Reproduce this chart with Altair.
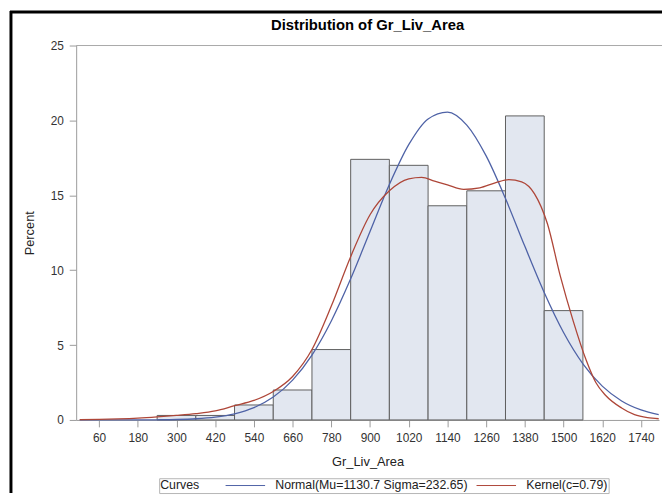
import altair as alt
import pandas as pd

# Histogram bins (Gr_Liv_Area midpoints, bin width 120) and percent per bin
bin_centers = [300, 420, 540, 660, 780, 900, 1020, 1140, 1260, 1380, 1500]
bin_percent = [0.3, 0.3, 1.0, 2.0, 4.7, 17.4, 17.0, 14.3, 15.3, 20.3, 7.3]
bin_width = 120

# Normal(Mu=1130.7 Sigma=232.65) curve
normal_x = [0, 60, 120, 180, 240, 300, 360, 420, 480, 540, 600, 660, 720, 780, 840,
            900, 960, 1020, 1080, 1140, 1200, 1260, 1320, 1380, 1440, 1500, 1560,
            1620, 1680, 1740, 1795]
normal_y = [0.0, 0.0, 0.0, 0.0, 0.01, 0.03, 0.08, 0.19, 0.41, 0.82, 1.53, 2.66, 4.33,
            6.61, 9.42, 12.58, 15.72, 18.38, 20.10, 20.56, 19.69, 17.63, 14.78, 11.59,
            8.51, 5.84, 3.75, 2.26, 1.27, 0.67, 0.35]

# Kernel(c=0.79) curve
kernel_x = [0, 60, 120, 180, 240, 300, 360, 420, 480, 540, 600, 660, 720, 780, 840,
            900, 960, 1020, 1060, 1100, 1140, 1190, 1240, 1290, 1330, 1370, 1410,
            1450, 1490, 1530, 1570, 1600, 1630, 1680, 1720, 1760, 1795]
kernel_y = [0.02, 0.04, 0.07, 0.12, 0.2, 0.3, 0.42, 0.6, 0.95, 1.3, 1.9, 2.9, 4.7,
            7.6, 10.9, 13.7, 15.3, 16.1, 16.2, 15.95, 15.7, 15.4, 15.5, 15.85, 16.05,
            15.9, 15.1, 13.1, 9.6, 6.6, 4.0, 2.5, 1.65, 0.8, 0.35, 0.15, 0.08]

curve_names = ["Normal(Mu=1130.7 Sigma=232.65)", "Kernel(c=0.79)"]
curve_colors = ["#4E62A6", "#AE4638"]

x_ticks = [60, 180, 300, 420, 540, 660, 780, 900, 1020, 1140, 1260, 1380, 1500, 1620, 1740]
y_ticks = [0, 5, 10, 15, 20, 25]

FONT = "Liberation Sans"

bars_df = pd.DataFrame({
    "start": [c - bin_width / 2 for c in bin_centers],
    "end": [c + bin_width / 2 for c in bin_centers],
    "percent": bin_percent,
    "base": [0] * len(bin_centers),
})

curves_df = pd.concat([
    pd.DataFrame({"x": normal_x, "y": normal_y, "curve": curve_names[0]}),
    pd.DataFrame({"x": kernel_x, "y": kernel_y, "curve": curve_names[1]}),
])

x_scale = alt.Scale(domain=[-11, 1796], nice=False, zero=False)
y_scale = alt.Scale(domain=[0, 25], nice=False)

x_axis = alt.Axis(title="Gr_Liv_Area", values=x_ticks, format="d", labelFlush=False)
y_axis = alt.Axis(title="Percent", values=y_ticks, format="d")

bars = alt.Chart(bars_df).mark_rect(
    fill="#E2E7F0", stroke="#5E5E5E", strokeWidth=1
).encode(
    x=alt.X("start:Q", scale=x_scale, axis=x_axis),
    x2="end:Q",
    y=alt.Y("percent:Q", scale=y_scale, axis=y_axis),
    y2="base:Q",
)

lines = alt.Chart(curves_df).mark_line(
    strokeWidth=1.3, interpolate="monotone"
).encode(
    x=alt.X("x:Q", scale=x_scale, axis=x_axis),
    y=alt.Y("y:Q", scale=y_scale, axis=y_axis),
    color=alt.Color(
        "curve:N",
        scale=alt.Scale(domain=curve_names, range=curve_colors),
        legend=alt.Legend(
            orient="none", legendX=84, legendY=438, direction="horizontal",
            title="Curves", titleOrient="left", titleFontWeight="normal",
            titleFontSize=12.5, titleFont=FONT, titleColor="#222222", titlePadding=40,
            labelFontSize=12.5, labelFont=FONT, labelColor="#222222", labelLimit=400,
            labelOffset=24, columnPadding=6, symbolType="M-4,0H4", symbolSize=100,
            symbolStrokeWidth=1, strokeColor="#B5B5B5", padding=1, fillColor="white",
        ),
    ),
    detail="curve:N",
)

frame_df = pd.DataFrame({"k": [0]})
top_frame = alt.Chart(frame_df).mark_rule(color="#A8A8A8", strokeWidth=1).encode(
    x=alt.value(0), x2=alt.value(593), y=alt.value(0)
)
border_left = alt.Chart(frame_df).mark_rule(color="black", strokeWidth=3).encode(
    x=alt.value(-66), y=alt.value(-35), y2=alt.value(453)
)
border_top = alt.Chart(frame_df).mark_rule(color="black", strokeWidth=3).encode(
    x=alt.value(-67), x2=alt.value(593), y=alt.value(-34)
)

chart = alt.layer(bars, lines, top_frame, border_left, border_top).properties(
    width=590,
    height=379,
    padding={"left": 69, "top": 35, "right": 3, "bottom": 74},
    autosize=alt.AutoSizeParams(type="none"),
    title=alt.TitleParams(
        "Distribution of Gr_Liv_Area", fontSize=15, fontWeight="bold", font=FONT,
        anchor="middle", frame="group", offset=12, dy=36, color="black",
    ),
).configure_view(stroke=None).configure_axis(
    grid=False, labelFont=FONT, labelFontSize=12, labelColor="#333333",
    titleFont=FONT, titleFontSize=13, titleFontWeight="normal", titleColor="#222222",
    tickColor="#9A9A9A", domainColor="#9A9A9A", tickSize=7, labelPadding=6,
).configure_axisX(titlePadding=12).configure_axisY(titlePadding=14)

chart.save("out.html", embed_options={"renderer": "svg", "actions": False})
